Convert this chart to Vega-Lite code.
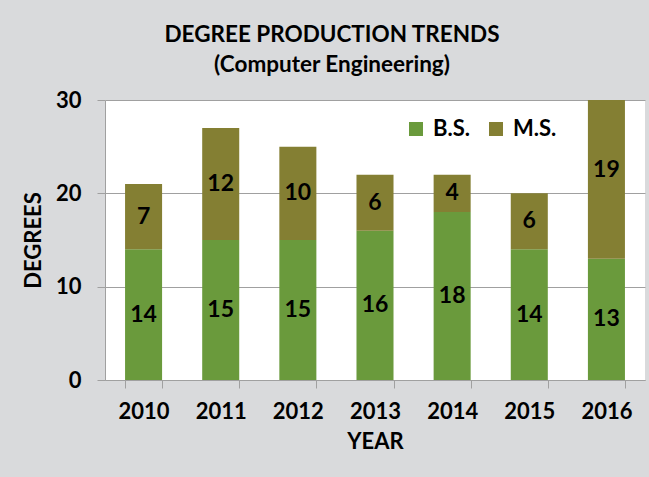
{
  "$schema": "https://vega.github.io/schema/vega-lite/v6.json",
  "width": 540,
  "height": 280,
  "autosize": {"type": "none"},
  "padding": {"left": 105, "top": 100, "right": 4, "bottom": 97},
  "background": "#d9dadc",
  "config": {
    "font": "Lato",
    "view": {"fill": "white", "stroke": null}
  },
  "title": {
    "text": ["DEGREE PRODUCTION TRENDS", "(Computer Engineering)"],
    "fontSize": 22.5,
    "fontWeight": "bold",
    "font": "Lato",
    "color": "black",
    "lineHeight": 30,
    "anchor": "middle",
    "offset": 13,
    "dx": -43
  },
  "data": {
    "values": [
      {"year": "2010", "degree": "B.S.", "count": 14},
      {"year": "2010", "degree": "M.S.", "count": 7},
      {"year": "2011", "degree": "B.S.", "count": 15},
      {"year": "2011", "degree": "M.S.", "count": 12},
      {"year": "2012", "degree": "B.S.", "count": 15},
      {"year": "2012", "degree": "M.S.", "count": 10},
      {"year": "2013", "degree": "B.S.", "count": 16},
      {"year": "2013", "degree": "M.S.", "count": 6},
      {"year": "2014", "degree": "B.S.", "count": 18},
      {"year": "2014", "degree": "M.S.", "count": 4},
      {"year": "2015", "degree": "B.S.", "count": 14},
      {"year": "2015", "degree": "M.S.", "count": 6},
      {"year": "2016", "degree": "B.S.", "count": 13},
      {"year": "2016", "degree": "M.S.", "count": 19}
    ]
  },
  "transform": [
    {"calculate": "datum.degree === 'B.S.' ? 0 : 1", "as": "ord"},
    {"stack": "count", "groupby": ["year"], "sort": [{"field": "ord", "order": "ascending"}], "as": ["y0", "y1"]},
    {"calculate": "(datum.y0 + datum.y1) / 2", "as": "mid"}
  ],
  "encoding": {
    "x": {
      "field": "year",
      "type": "nominal",
      "scale": {"paddingInner": 0.52, "paddingOuter": 0.26},
      "axis": {
        "title": "YEAR",
        "labelAngle": 0,
        "labelFontSize": 22,
        "labelFontWeight": "bold",
        "labelColor": "black",
        "labelPadding": 13,
        "titleFontSize": 22,
        "titleFontWeight": "bold",
        "titleColor": "black",
        "titlePadding": 9,
        "tickBand": "extent",
        "tickSize": 8,
        "tickColor": "#a0a0a0",
        "domainColor": "#a0a0a0",
        "grid": false
      }
    }
  },
  "layer": [
    {
      "mark": {"type": "bar", "clip": true},
      "encoding": {
        "y": {
          "field": "y0",
          "type": "quantitative",
          "scale": {"domain": [0, 30]},
          "axis": {
            "title": "DEGREES",
            "values": [0, 10, 20, 30],
            "labelFontSize": 22,
            "labelFontWeight": "bold",
            "labelColor": "black",
            "labelPadding": 16,
            "titleFontSize": 22,
            "titleFontWeight": "bold",
            "titleColor": "black",
            "titlePadding": 10,
            "tickSize": 8,
            "tickColor": "#a0a0a0",
            "domainColor": "#a0a0a0",
            "gridColor": "#a0a0a0",
            "gridWidth": 1
          }
        },
        "y2": {"field": "y1"},
        "color": {
          "field": "degree",
          "type": "nominal",
          "scale": {"domain": ["B.S.", "M.S."], "range": ["#6a9a3c", "#847f33"]},
          "legend": {
            "title": null,
            "orient": "none",
            "legendX": 300,
            "legendY": 18,
            "direction": "horizontal",
            "symbolType": "square",
            "symbolSize": 196,
            "symbolStrokeWidth": 0,
            "labelFontSize": 22,
            "labelFontWeight": "bold",
            "labelColor": "black",
            "columnPadding": 14,
            "labelOffset": 6
          }
        }
      }
    },
    {
      "mark": {"type": "text", "fontSize": 23, "fontWeight": "bold", "color": "black", "baseline": "middle"},
      "encoding": {
        "y": {"field": "mid", "type": "quantitative"},
        "text": {"field": "count", "type": "quantitative"}
      }
    }
  ]
}
